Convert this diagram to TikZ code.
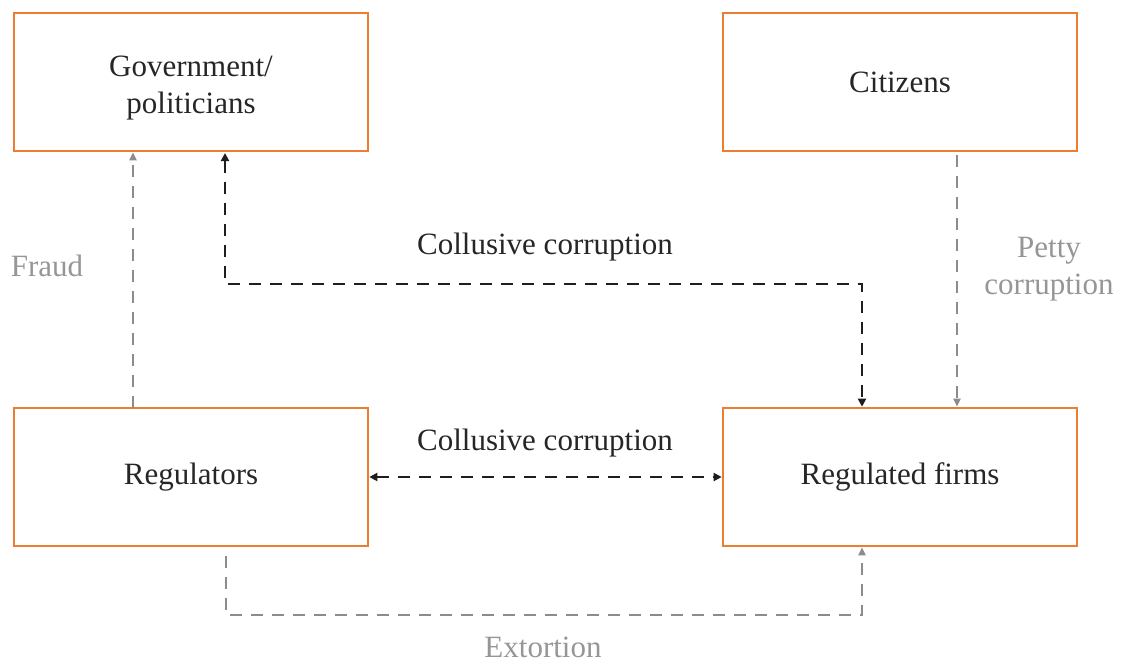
\documentclass[tikz,border=0pt]{standalone}
\usepackage{fontspec}
\setmainfont{Liberation Serif}
\usetikzlibrary{arrows.meta}
\definecolor{boxorange}{RGB}{237,125,49}
\definecolor{linegray}{RGB}{140,140,140}
\definecolor{textgray}{RGB}{150,150,150}
\definecolor{darkline}{RGB}{30,30,30}
\begin{document}
\begin{tikzpicture}[x=1pt,y=-1pt,
  actor/.style={draw=boxorange,line width=2.6pt,minimum width=354pt,minimum height=138pt,
    inner sep=0pt,align=center,font=\fontsize{31}{37}\selectfont,text=black!85},
  blackflow/.style={draw=darkline,line width=2.8pt,dash pattern=on 12pt off 9pt,
    arrows={Triangle[length=8pt,width=8pt]-Triangle[length=8pt,width=8pt]}},
  grayflow/.style={draw=linegray,line width=2pt,dash pattern=on 12pt off 9pt,
    -{Triangle[length=8pt,width=7pt]}},
  lbl/.style={font=\fontsize{31}{37}\selectfont,text=black!85,inner sep=0pt},
  glbl/.style={font=\fontsize{31}{37}\selectfont,text=textgray,inner sep=0pt,align=center}]
\useasboundingbox (0,0) rectangle (1124,662);
\node[actor] (gov) at (191,82) {\rule{0pt}{32pt}Government/\\politicians};
\node[actor] (cit) at (900,82) {Citizens};
\node[actor] (reg) at (191,477) {Regulators};
\node[actor] (firm) at (900,477) {Regulated firms};
% Fraud
\coordinate (fr1) at (133,408);
\draw[grayflow] (fr1) -- (fr1 |- gov.south);
\node[glbl] (fraud) at (47,266) {Fraud};
% Collusive corruption (top)
\coordinate (c1) at (225,153);
\coordinate (c2) at (862,408);
\draw[blackflow] (c1) -- (225,284) -- (862,284) -- (c2 |- firm.north);
\node[lbl] (cc1) at (545,247) {Collusive corruption};
% Petty corruption
\coordinate (p1) at (957,155);
\draw[grayflow] (p1) -- (p1 |- firm.north);
\node[glbl] (petty) at (1049,269) {Petty\\corruption};
% Collusive corruption (bottom)
\draw[blackflow] (reg.east) -- (firm.west);
\node[lbl] (cc2) at (545,443) {Collusive corruption};
% Extortion
\coordinate (e1) at (226,556);
\coordinate (e2) at (862,615);
\draw[grayflow] (e1) -- (226,615) -- (e2) -- (e2 |- firm.south);
\node[glbl] (ext) at (543,647) {Extortion};
\end{tikzpicture}
\end{document}
